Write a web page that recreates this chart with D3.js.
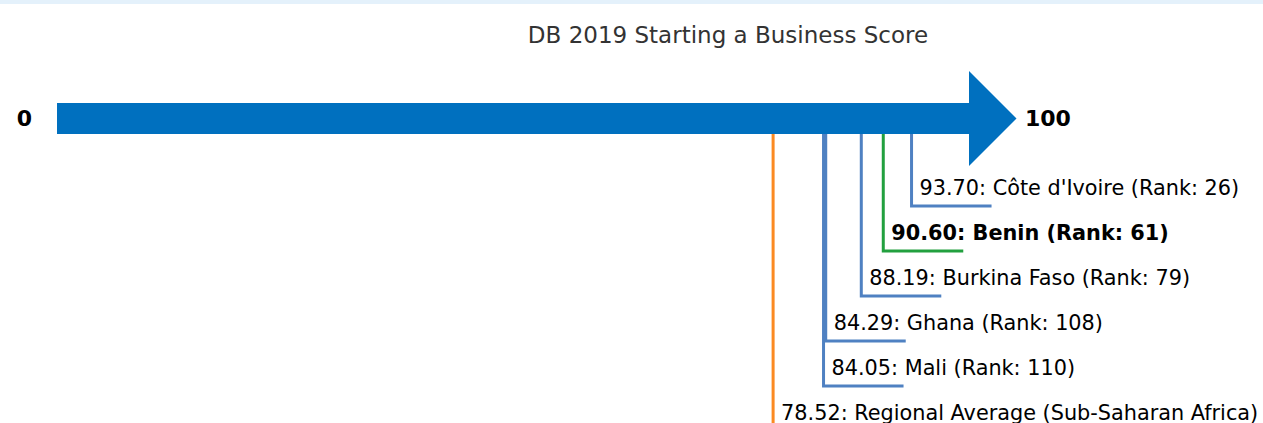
<!DOCTYPE html>
<html>
<head>
<meta charset="utf-8">
<script src="https://cdn.jsdelivr.net/npm/d3@7"></script>
<style>
  body { margin: 0; background: #fff; font-family: "DejaVu Sans", sans-serif; }
  #band { height: 4px; background: #e4f1fb; }
</style>
</head>
<body>
<div id="band"></div>
<svg id="chart" width="1263" height="419"></svg>
<script>
const title = "DB 2019 Starting a Business Score";
const economies = ["Côte d'Ivoire", "Benin", "Burkina Faso", "Ghana", "Mali", "Regional Average (Sub-Saharan Africa)"];
const scores = [93.70, 90.60, 88.19, 84.29, 84.05, 78.52];
const ranks = [26, 61, 79, 108, 110, null];
const kinds = ["peer", "focus", "peer", "peer", "peer", "region"];
const axisEnds = [0, 100];

let chart = d3.select("#chart");
let off = 4; // band above svg

let xScale = d3.scaleLinear().domain(axisEnds).range([57, 969]);

let barTop = 103 - off, barH = 31;
let barMid = barTop + barH / 2;

let colors = { peer: "#4f81c2", focus: "#22a03f", region: "#fb8a22" };

chart.append("text")
    .text(title)
    .attr("x", 728)
    .attr("y", 43 - off)
    .style("text-anchor", "middle")
    .style("font-size", "23px")
    .style("fill", "#333");

// arrow shaft + head
let x0 = xScale(axisEnds[0]), x1 = xScale(axisEnds[1]);
chart.append("path")
    .attr("d", "M" + x0 + "," + barTop +
               "H" + x1 + "V" + (barMid - 47.5) +
               "L" + (x1 + 47.5) + "," + barMid +
               "L" + x1 + "," + (barMid + 47.5) +
               "V" + (barTop + barH) + "H" + x0 + "Z")
    .attr("fill", "#0070bf");

chart.append("text")
    .text(axisEnds[0])
    .attr("x", 24.5)
    .attr("y", barMid + 7.5)
    .style("text-anchor", "middle")
    .style("font-weight", "bold")
    .style("font-size", "22px");

chart.append("text")
    .text(axisEnds[1])
    .attr("x", 1025)
    .attr("y", barMid + 7.5)
    .style("font-weight", "bold")
    .style("font-size", "22px");

let rowY = d3.scaleLinear().domain([0, 1]).range([206 - off, 251 - off]);

let g = chart.selectAll("g.entry")
    .data(economies).enter()
    .append("g")
        .attr("class", "entry");

g.append("path")
    .attr("d", function(d, i){
        let x = xScale(scores[i]);
        return "M" + x + "," + (barTop + barH) + "V" + rowY(i) + "H" + (x + 80);
    })
    .attr("fill", "none")
    .attr("stroke", (d, i) => colors[kinds[i]])
    .attr("stroke-width", 3);

g.append("text")
    .text(function(d, i){
        let s = scores[i].toFixed(2) + ": " + d;
        if (ranks[i] != null) s += " (Rank: " + ranks[i] + ")";
        return s;
    })
    .attr("x", (d, i) => xScale(scores[i]) + 8)
    .attr("y", (d, i) => rowY(i) - 11)
    .style("font-size", "20.8px")
    .style("font-weight", (d, i) => kinds[i] == "focus" ? "bold" : "normal")
    .style("fill", "#000");
</script>
</body>
</html>
